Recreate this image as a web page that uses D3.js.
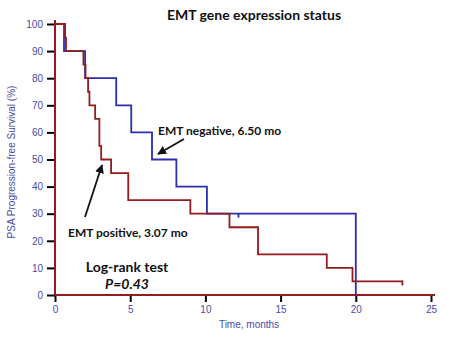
<!DOCTYPE html>
<html>
<head>
<meta charset="utf-8">
<script src="https://cdn.jsdelivr.net/npm/d3@7"></script>
<style>
  body { margin: 0; background: #fff; }
  svg { display: block; }
</style>
</head>
<body>
<div id="chart"></div>
<script>
// Kaplan-Meier curves
const negTimes = [0, 0.6, 2.0, 4.07, 5.07, 6.45, 8.07, 10.1, 20.0];
const negSurv  = [100, 90, 80, 70, 60, 50, 40, 30, 0];
const negCensor = [[12.2, 30]];

const posTimes = [0, 0.67, 0.73, 1.89, 2.03, 2.2, 2.29, 2.67, 2.95, 3.07, 3.73, 4.87, 9.0, 11.6, 13.5, 18.07, 19.78, 23.1];
const posSurv  = [100, 95, 90, 85, 80, 75, 70, 65, 55, 50, 45, 35, 30, 25, 15, 10, 5, 5];
const posCensor = [[23.1, 5]];

const xTicks = [0, 5, 10, 15, 20, 25];
const yTicks = [0, 10, 20, 30, 40, 50, 60, 70, 80, 90, 100];

const width = 454, height = 340;
const red = "#931c1c", blue = "#2d2db0", tickColor = "#4a4aa8";

const svg = d3.select("#chart").append("svg")
    .attr("width", width)
    .attr("height", height);

const x = d3.scaleLinear().domain([0, 25]).range([55, 431]);
const y = d3.scaleLinear().domain([0, 100]).range([295, 24]);

// x axis
const xAxis = svg.append("g")
    .attr("transform", `translate(0, ${y(0)})`)
    .call(d3.axisBottom(x).tickValues(xTicks).tickSize(7).tickPadding(4));
xAxis.select(".domain").remove();
xAxis.selectAll(".tick line").attr("stroke", "#000").attr("stroke-width", 2);
xAxis.selectAll(".tick text")
    .attr("fill", tickColor)
    .style("font-family", "Liberation Sans, Arial, sans-serif")
    .style("font-size", "10px");

// y axis
const yAxis = svg.append("g")
    .attr("transform", `translate(${x(0)}, 0)`)
    .call(d3.axisLeft(y).tickValues(yTicks).tickSize(8).tickPadding(4));
yAxis.select(".domain").remove();
yAxis.selectAll(".tick line").attr("stroke", "#000").attr("stroke-width", 2);
yAxis.selectAll(".tick text")
    .attr("fill", tickColor)
    .style("font-family", "Liberation Sans, Arial, sans-serif")
    .style("font-size", "10px");

// axis lines (dark red like the reference)
svg.append("line")
    .attr("x1", x(0)).attr("x2", x(25) + 4)
    .attr("y1", y(0)).attr("y2", y(0))
    .attr("stroke", red).attr("stroke-width", 2);
svg.append("line")
    .attr("x1", x(0)).attr("x2", x(0))
    .attr("y1", y(0)).attr("y2", y(100) - 4)
    .attr("stroke", red).attr("stroke-width", 2);

// axis labels
svg.append("text")
    .attr("x", 249).attr("y", 328)
    .attr("text-anchor", "middle")
    .attr("fill", tickColor)
    .style("font-family", "Liberation Sans, Arial, sans-serif")
    .style("font-size", "10px")
    .text("Time, months");

svg.append("text")
    .attr("transform", "translate(15, 162) rotate(-90)")
    .attr("text-anchor", "middle")
    .attr("fill", tickColor)
    .style("font-family", "Liberation Sans, Arial, sans-serif")
    .style("font-size", "10px")
    .text("PSA Progression-free Survival (%)");

// survival curves
const line = d3.line()
    .x(d => x(d[0]))
    .y(d => y(d[1]))
    .curve(d3.curveStepAfter);

const negData = negTimes.map((t, i) => [t, negSurv[i]]);
const posData = posTimes.map((t, i) => [t, posSurv[i]]);

svg.append("path")
    .datum(negData)
    .attr("d", line)
    .attr("fill", "none")
    .attr("stroke", blue)
    .attr("stroke-width", 1.8);

svg.selectAll(".negcensor")
    .data(negCensor)
    .join("line")
    .attr("x1", d => x(d[0])).attr("x2", d => x(d[0]))
    .attr("y1", d => y(d[1])).attr("y2", d => y(d[1]) + 4)
    .attr("stroke", blue).attr("stroke-width", 1.8);

svg.append("path")
    .datum(posData)
    .attr("d", line)
    .attr("fill", "none")
    .attr("stroke", red)
    .attr("stroke-width", 1.8);

svg.selectAll(".poscensor")
    .data(posCensor)
    .join("line")
    .attr("x1", d => x(d[0])).attr("x2", d => x(d[0]))
    .attr("y1", d => y(d[1]) - 1).attr("y2", d => y(d[1]) + 4)
    .attr("stroke", red).attr("stroke-width", 1.8);

// arrow heads
svg.append("defs").append("marker")
    .attr("id", "arrow")
    .attr("viewBox", "0 0 10 10")
    .attr("refX", 9).attr("refY", 5)
    .attr("markerWidth", 5).attr("markerHeight", 5)
    .attr("orient", "auto")
    .append("path")
    .attr("d", "M0,0 L10,5 L0,10 Z")
    .attr("fill", "#111");

svg.append("line")
    .attr("x1", 184).attr("y1", 139)
    .attr("x2", 158).attr("y2", 154)
    .attr("stroke", "#111").attr("stroke-width", 1.8)
    .attr("marker-end", "url(#arrow)");

svg.append("line")
    .attr("x1", 85).attr("y1", 217)
    .attr("x2", 102).attr("y2", 165)
    .attr("stroke", "#111").attr("stroke-width", 1.8)
    .attr("marker-end", "url(#arrow)");

// text annotations
const font = "Lato, 'Open Sans', sans-serif";

svg.append("text")
    .attr("x", 254).attr("y", 20)
    .attr("text-anchor", "middle")
    .style("font-family", font)
    .style("font-weight", "bold")
    .style("font-size", "14px")
    .attr("fill", "#111")
    .text("EMT gene expression status");

svg.append("text")
    .attr("x", 158).attr("y", 135)
    .style("font-family", font)
    .style("font-weight", "bold")
    .style("font-size", "12px")
    .attr("fill", "#111")
    .text("EMT negative, 6.50 mo");

svg.append("text")
    .attr("x", 68).attr("y", 237)
    .style("font-family", font)
    .style("font-weight", "bold")
    .style("font-size", "12px")
    .attr("fill", "#111")
    .text("EMT positive, 3.07 mo");

svg.append("text")
    .attr("x", 127).attr("y", 272)
    .attr("text-anchor", "middle")
    .style("font-family", font)
    .style("font-weight", "bold")
    .style("font-size", "14px")
    .attr("fill", "#111")
    .text("Log-rank test");

svg.append("text")
    .attr("x", 127).attr("y", 289)
    .attr("text-anchor", "middle")
    .style("font-family", font)
    .style("font-weight", "bold")
    .style("font-style", "italic")
    .style("font-size", "14px")
    .attr("fill", "#111")
    .text("P=0.43");
</script>
</body>
</html>
